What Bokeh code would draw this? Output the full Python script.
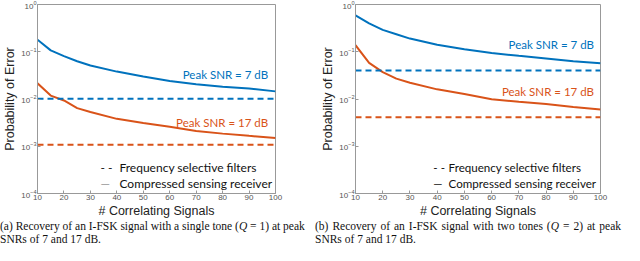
from bokeh.plotting import figure
from bokeh.models import Label, FixedTicker, LogTickFormatter, Div
from bokeh.layouts import row, column
from bokeh.embed import file_html
from bokeh.resources import INLINE

signals = [10, 15, 20, 25, 30, 40, 50, 60, 70, 80, 90, 100]

# Panel (a): single tone
a_cs_7 = [0.18, 0.107, 0.081, 0.063, 0.051, 0.038, 0.030, 0.024, 0.0205, 0.0182, 0.0166, 0.0145]
a_cs_17 = [0.0215, 0.0118, 0.0093, 0.0064, 0.0053, 0.0038, 0.0031, 0.0026, 0.0021, 0.00185, 0.00166, 0.0015]
a_fsf_7 = 0.0101
a_fsf_17 = 0.00108

# Panel (b): two tones
b_cs_7 = [0.59, 0.40, 0.29, 0.235, 0.19, 0.14, 0.113, 0.094, 0.082, 0.072, 0.063, 0.057]
b_cs_17 = [0.138, 0.058, 0.037, 0.027, 0.022, 0.016, 0.0127, 0.0099, 0.0087, 0.0078, 0.0068, 0.006]
b_fsf_7 = 0.04
b_fsf_17 = 0.0041

x_ticks = [10, 20, 30, 40, 50, 60, 70, 80, 90, 100]
y_ticks = [1e-4, 1e-3, 1e-2, 1e-1, 1e0]

caption_a = ["(a) Recovery of an I-FSK signal with a single tone (<i>Q</i> = 1) at peak",
             "SNRs of 7 and 17 dB."]
caption_b = ["(b) Recovery of an I-FSK signal with two tones (<i>Q</i> = 2) at peak",
             "SNRs of 7 and 17 dB."]

legend_labels = ["Frequency selective filters", "Compressed sensing receiver"]

BLUE = "#0072BD"
ORANGE = "#D95319"
SANS = "Liberation Sans"
CAL = "Lato"
W = 312


def make_panel(cs7, cs17, f7, f17, lab7, lab17, lab_x, leg_x, leg_size, bl, br, sample_color):
    p = figure(width=W, height=220, y_axis_type="log", x_range=(10, 100),
               y_range=(1e-4, 1e0), output_backend="svg", toolbar_location=None,
               min_border_left=bl, min_border_right=br, min_border_top=4,
               min_border_bottom=0, sizing_mode="fixed")
    p.xgrid.visible = False
    p.ygrid.visible = False
    p.outline_line_color = "#999999"

    p.line(signals, cs7, line_color=BLUE, line_width=2)
    p.line(signals, cs17, line_color=ORANGE, line_width=2)
    p.line([signals[0], signals[-1]], [f7, f7], line_color=BLUE, line_width=2, line_dash="6 4")
    p.line([signals[0], signals[-1]], [f17, f17], line_color=ORANGE, line_width=2, line_dash="6 4")

    p.xaxis.ticker = FixedTicker(ticks=x_ticks)
    p.yaxis.ticker = FixedTicker(ticks=y_ticks, minor_ticks=[])
    p.yaxis.formatter = LogTickFormatter()
    for ax in (p.xaxis[0], p.yaxis[0]):
        ax.axis_line_color = "#999999"
        ax.major_tick_line_color = "#999999"
        ax.major_tick_in = 3
        ax.major_tick_out = 0
        ax.minor_tick_line_color = None
        ax.major_label_text_font = SANS
        ax.major_label_text_font_size = "8px"
        ax.major_label_text_color = "#555555"
        ax.major_label_standoff = 1
        ax.axis_label_text_font = SANS
        ax.axis_label_text_font_size = "12.5px"
        ax.axis_label_text_font_style = "normal"
        ax.axis_label_text_color = "#222222"
        ax.axis_label_standoff = 1
    p.xaxis.axis_label = "# Correlating Signals"
    p.yaxis.axis_label = "Probability of Error"

    p.add_layout(Label(x=lab_x, y=lab7, text="Peak SNR = 7 dB", text_align="right",
                       text_baseline="middle", text_color=BLUE, text_font=CAL,
                       text_font_size="11.5px"))
    p.add_layout(Label(x=lab_x, y=lab17, text="Peak SNR = 17 dB", text_align="right",
                       text_baseline="middle", text_color=ORANGE, text_font=CAL,
                       text_font_size="11.5px"))
    # legend rows: sample + label
    p.add_layout(Label(x=leg_x[0], y=3.6e-4, text="- -", text_align="left",
                       text_baseline="middle", text_color="#111111", text_font=CAL,
                       text_font_size=leg_size))
    p.add_layout(Label(x=leg_x[1], y=3.6e-4, text=legend_labels[0], text_align="left",
                       text_baseline="middle", text_color="#111111", text_font=CAL,
                       text_font_size=leg_size))
    p.add_layout(Label(x=leg_x[0], y=1.66e-4, text="\u2014", text_align="left",
                       text_baseline="middle", text_color=sample_color, text_font=CAL,
                       text_font_size=leg_size))
    p.add_layout(Label(x=leg_x[1], y=1.66e-4, text=legend_labels[1], text_align="left",
                       text_baseline="middle", text_color="#111111", text_font=CAL,
                       text_font_size=leg_size))
    return p


def caption(lines, left_pad, text_w):
    html = ('<div style="display:block;width:%dpx;margin-left:%dpx;text-align:justify;'
            'text-align-last:justify;white-space:nowrap">%s</div>'
            '<div style="margin-left:%dpx">%s</div>') % (text_w, left_pad, lines[0], left_pad, lines[1])
    return Div(text=html, width=W, height=25, margin=(0, 0, 0, 0), sizing_mode="fixed",
               styles={"font-family": "Liberation Serif", "font-size": "11.5px",
                       "line-height": "12.5px", "color": "#111111"})


pa = make_panel(a_cs_7, a_cs_17, a_fsf_7, a_fsf_17, 0.033, 0.0032, 97.2,
                (33.8, 41.0), "12px", 32, 37, "#9a9a9a")
pb = make_panel(b_cs_7, b_cs_17, b_fsf_7, b_fsf_17, 0.145, 0.0145, 97.6,
                (38.6, 44.2), "11.6px", 43, 24, "#111111")

layout = row(column(pa, caption(caption_a, 0, 304)),
             column(pb, caption(caption_b, 3, 306)))
open("out.html", "w").write(file_html(layout, INLINE))
